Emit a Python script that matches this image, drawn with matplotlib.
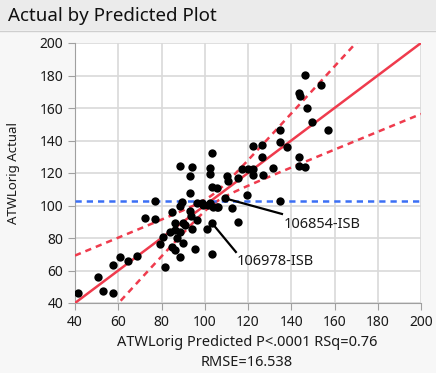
import matplotlib
matplotlib.use("Agg")
import matplotlib.pyplot as plt
import numpy as np

plt.rcParams['font.family'] = ['Noto Sans', 'DejaVu Sans']

# ---- data ----
predicted = [41.5, 50.8, 53.1, 57.7, 57.7, 60.8, 64.6, 68.5,
             72.4, 77.0, 77.0, 79.5, 80.8, 81.7, 83.9, 84.7, 84.7, 86.2, 86.2, 86.2,
             87.0, 88.6, 88.6, 88.5, 88.6, 89.3, 90.1, 90.1, 90.9, 93.2, 93.2, 94.0,
             93.2, 93.6, 94.0, 95.5, 96.3, 96.3, 99.3, 101.6, 102.4, 104.0, 106.3,
             100.9, 103.2, 103.2, 103.2, 105.5, 103.2, 102.4, 102.4, 109.4, 110.1,
             110.9, 115.5, 117.1, 119.8, 122.1, 122.5, 127.0, 126.3, 112.4, 115.5,
             119.4, 134.8, 122.3, 126.3, 131.4, 134.8, 134.8, 138.2, 143.7, 143.7,
             146.4, 143.5, 144.2, 146.4, 153.8, 147.4, 149.7, 157.1, 98.6, 105.5]
actual = [46.3, 55.8, 47.2, 46.3, 63.4, 68.5, 65.8, 69.1,
          92.5, 91.5, 102.5, 76.5, 80.8, 62.2, 84.0, 95.8, 74.6, 72.6, 84.9, 89.0,
          79.8, 83.9, 68.1, 124.5, 99.7, 102.3, 89.0, 76.7, 88.0, 107.9, 118.2, 123.9,
          96.8, 93.3, 85.3, 73.2, 91.1, 101.7, 100.3, 100.3, 101.7, 99.3, 99.3,
          85.3, 89.4, 70.2, 111.2, 110.6, 132.1, 122.9, 119.4, 104.4, 118.2,
          115.3, 116.7, 122.3, 122.3, 122.3, 118.8, 118.8, 130.1, 98.3, 90.0,
          106.5, 103.0, 136.7, 137.2, 122.9, 146.5, 139.3, 135.8, 129.7, 124.3,
          123.5, 169.5, 167.5, 180.3, 174.2, 159.8, 151.6, 146.5, 101.4, 98.9]

mean_actual = 102.8
band_center = 104.0
band_a = 9.0
band_b = 0.206

labels = ["106854-ISB", "106978-ISB"]
label_points = [(109.4, 104.4), (103.2, 89.4)]
label_ends = [(135.7, 94.8), (114.4, 71.4)]
label_text = [(136.6, 88.0), (114.8, 65.4)]

ticks = [40, 60, 80, 100, 120, 140, 160, 180, 200]

W, H = 436, 373
fig = plt.figure(figsize=(W / 100, H / 100), dpi=100)
fig.patch.set_facecolor('#f7f7f7')

# title band
fig.patches.append(plt.Rectangle((0, 1 - 30 / H), 1, 30 / H, transform=fig.transFigure,
                                 facecolor='#ebebeb', edgecolor='none', zorder=0))
fig.add_artist(plt.Line2D([0, 1], [1 - 30.5 / H, 1 - 30.5 / H], transform=fig.transFigure,
                          color='#cfcfcf', lw=1))
fig.text(8 / W, 1 - 16 / H, "Actual by Predicted Plot", fontsize=13.5, fontweight='bold',
         va='center', ha='left', color='#111111')

ax = fig.add_axes([75 / W, 1 - 303 / H, 346 / W, 260 / H])
ax.set_facecolor('white')
ax.set_xlim(40, 200)
ax.set_ylim(40, 200)
ax.set_xticks(ticks)
ax.set_yticks(ticks)
ax.grid(True, color='#d9d9d9', lw=1.2)
ax.set_axisbelow(True)
for s in ['top', 'right']:
    ax.spines[s].set_visible(False)
for s in ['left', 'bottom']:
    ax.spines[s].set_color('#a0a0a0')
ax.tick_params(colors='#a0a0a0', labelcolor='#1a1a1a', labelsize=10, length=5)

# fit line and confidence curves
xs = np.linspace(40, 200, 400)
ax.plot(xs, xs, color='#ef3b4d', lw=1.8, zorder=3)
hw = np.sqrt(band_a + band_b * (xs - band_center) ** 2)
ax.plot(xs, xs + hw, color='#ef3b4d', lw=1.8, ls=(0, (2.5, 2)), zorder=3)
ax.plot(xs, xs - hw, color='#ef3b4d', lw=1.8, ls=(0, (2.5, 2)), zorder=3)
ax.axhline(mean_actual, color='#3b6ff5', lw=1.8, ls=(0, (2.5, 2)), zorder=3)

ax.scatter(predicted, actual, s=36, color='black', zorder=4, linewidths=0)

for lab, p, e, t in zip(labels, label_points, label_ends, label_text):
    ax.plot([p[0], e[0]], [p[1], e[1]], color='black', lw=1.6, zorder=4)
    ax.text(t[0], t[1], lab, fontsize=10.5, color='#1a1a1a', va='center', ha='left', zorder=5)

ax.set_ylabel("ATWLorig Actual", fontsize=9.5, color='#1a1a1a')
ax.yaxis.set_label_coords(-55 / 346, 0.5)

fig.text(247 / W, 1 - 342 / H, "ATWLorig Predicted P<.0001 RSq=0.76", fontsize=10.5,
         ha='center', va='center', color='#1a1a1a')
fig.text(247 / W, 1 - 362 / H, "RMSE=16.538", fontsize=10.5,
         ha='center', va='center', color='#1a1a1a')

fig.savefig("out.png", dpi=100, facecolor=fig.get_facecolor())
